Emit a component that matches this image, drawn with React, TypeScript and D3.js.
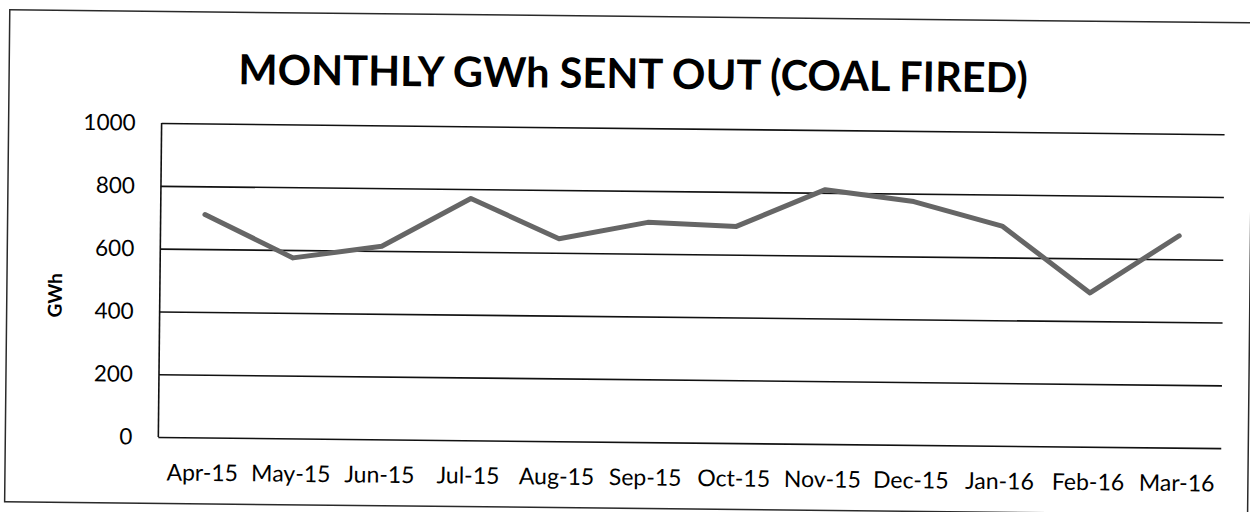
import React, { useEffect, useRef } from "react";
import * as d3 from "d3";

// data
const months = ["Apr-15", "May-15", "Jun-15", "Jul-15", "Aug-15", "Sep-15", "Oct-15", "Nov-15", "Dec-15", "Jan-16", "Feb-16", "Mar-16"];
const gwhSentOut = [710, 575, 615, 770, 645, 700, 690, 810, 775, 700, 490, 675];
const yTicks = [0, 200, 400, 600, 800, 1000];
const chartTitle = "MONTHLY GWh SENT OUT (COAL FIRED)";
const yTitle = "GWh";

const W = 1250, H = 512;
const margin = { top: 128.6, right: 27, bottom: 69.4, left: 160 };
const font = "Lato, 'Open Sans', sans-serif";

const App = () => {
  const svgRef = useRef<SVGSVGElement>(null);

  useEffect(() => {
    const svg = d3.select(svgRef.current);
    svg.selectAll("*").remove();

    // the scan is turned a little, right side lower
    const root = svg.append("g").attr("transform", "rotate(0.6 691 280)");

    const x = d3.scaleBand().domain(months).range([margin.left, W - margin.right]);
    const y = d3.scaleLinear().domain([0, 1000]).range([H - margin.bottom, margin.top]);

    // outer frame
    root.append("rect")
      .attr("x", 7).attr("y", 17)
      .attr("width", 1243).attr("height", 492)
      .style("fill", "none").style("stroke", "#2a2a2a").style("stroke-width", 1.5);

    root.append("text")
      .attr("x", 631).attr("y", 89)
      .attr("text-anchor", "middle")
      .style("font-family", font).style("font-weight", 700).style("font-size", "41.5px")
      .style("fill", "#000")
      .text(chartTitle);

    // gridlines + y labels
    const yAxis = root.append("g")
      .attr("transform", `translate(${margin.left}, 0)`)
      .call(d3.axisLeft(y).tickValues(yTicks).tickSize(-(W - margin.left - margin.right)).tickPadding(26).tickFormat(d3.format("d")));
    yAxis.select(".domain").remove();
    yAxis.selectAll(".tick line").style("stroke", "#111").style("stroke-width", 1.6);
    yAxis.selectAll(".tick text")
      .style("font-family", font).style("font-size", "22.5px").style("fill", "#000");

    // vertical axis line
    root.append("line")
      .attr("x1", margin.left).attr("x2", margin.left)
      .attr("y1", y(1000)).attr("y2", y(0))
      .style("stroke", "#111").style("stroke-width", 1.6);

    const xAxis = root.append("g")
      .attr("transform", `translate(0, ${y(0)})`)
      .call(d3.axisBottom(x).tickSize(0).tickPadding(27));
    xAxis.select(".domain").remove();
    xAxis.selectAll(".tick text")
      .style("font-family", font).style("font-size", "23px").style("fill", "#000");

    root.append("text")
      .attr("transform", `translate(62, 302) rotate(-90)`)
      .attr("text-anchor", "middle")
      .style("font-family", font).style("font-weight", 700).style("font-size", "19px")
      .text(yTitle);

    const line = d3.line<number>()
      .x((d, i) => (x(months[i]) as number) + x.bandwidth() / 2)
      .y(d => y(d));

    root.append("path")
      .datum(gwhSentOut)
      .attr("d", line)
      .style("fill", "none")
      .style("stroke", "#666")
      .style("stroke-width", 5)
      .style("stroke-linejoin", "round")
      .style("stroke-linecap", "round");
  }, []);

  return (
    <svg ref={svgRef} width={W} height={H}
      style={{ position: "absolute", left: 0, top: 0, background: "#fff" }} />
  );
};

export default App;
